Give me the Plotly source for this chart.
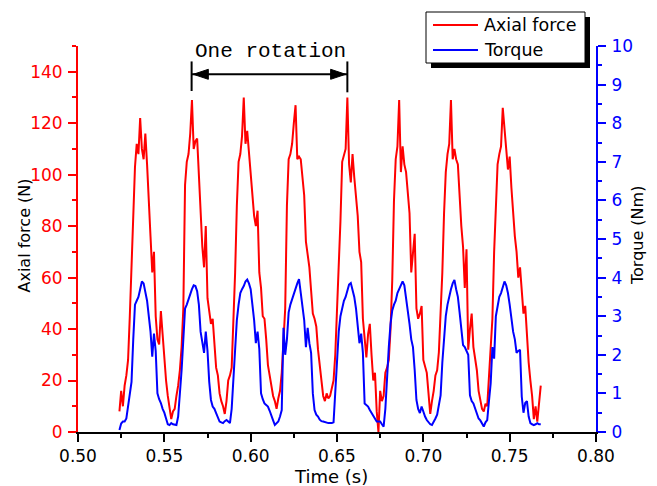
import plotly.graph_objects as go

# ---------------- data ----------------
t_start = 0.524   # s, first sample
t_step = 0.001    # s, sampling interval

axial_force = [
    8, 16, 10, 18, 22, 28,
    45, 62, 85, 103, 112, 108, 122, 110, 106, 116,
    104, 92, 76, 62, 70, 45, 36, 34, 47, 38,
    28, 20, 14, 10, 5, 8, 9, 14, 18, 24,
    33, 48, 96, 105, 108, 116, 129, 110, 113, 114,
    98, 86, 72, 64, 80, 52, 46, 42, 44, 32,
    25, 22, 15, 12, 10, 7, 12, 20, 22, 25,
    42, 62, 88, 105, 108, 115, 130, 112, 117, 108,
    100, 92, 84, 80, 86, 62, 56, 45, 44, 36,
    26, 22, 18, 14, 12, 9, 13, 16, 23, 35,
    48, 88, 106, 108, 112, 120, 127, 106, 107, 106,
    98, 92, 74, 68, 64, 55, 46, 44, 41, 32,
    25, 20, 14, 12, 15, 13, 14, 17, 20, 30,
    46, 62, 82, 105, 108, 110, 130, 104, 97, 108,
    99, 92, 84, 70, 66, 44, 36, 29, 38, 42,
    30, 20, 23, 8, 0, 16, 12, 14, 23, 25,
    28, 40, 59, 90, 106, 111, 129, 101, 111, 104,
    101, 92, 85, 62, 70, 77, 48, 44, 46, 49,
    28, 25, 23, 15, 7, 12, 16, 22, 24, 31,
    45, 62, 85, 101, 108, 112, 129, 106, 110, 106,
    104, 90, 80, 72, 56, 71, 32, 40, 46, 33,
    28, 24, 16, 12, 9, 8, 11, 10, 20, 30,
    44, 70, 88, 104, 108, 111, 126, 116, 110, 102,
    107, 95, 85, 76, 70, 60, 64, 55, 46, 49,
    35, 27, 20, 14, 5, 10, 4, 12, 18,
]

torque = [
    0.05, 0.22, 0.27, 0.27, 0.35, 0.7,
    1.0, 1.3, 2.4, 3.3, 3.4, 3.5, 3.7, 3.9, 3.85, 3.6,
    3.4, 3.0, 2.6, 1.95, 2.55, 2.1, 1.0, 0.85, 0.75, 0.6,
    0.5, 0.35, 0.2, 0.18, 0.23, 0.2, 0.18, 0.18, 0.4, 0.9,
    1.6, 2.4, 3.2, 3.3, 3.45, 3.6, 3.7, 3.8, 3.78, 3.65,
    3.3, 2.6, 2.3, 2.05, 2.6, 2.1, 1.3, 0.83, 0.66, 0.6,
    0.49, 0.38, 0.27, 0.25, 0.23, 0.28, 0.31, 0.27, 0.23, 0.6,
    1.4, 2.2, 2.9, 3.3, 3.6, 3.7, 3.78, 3.9, 3.95, 3.85,
    3.7, 3.3, 2.9, 2.3, 2.6, 2.15, 1.0, 0.85, 0.74, 0.7,
    0.66, 0.55, 0.4, 0.3, 0.18, 0.22, 0.27, 0.4, 0.57, 2.7,
    2.0, 2.4, 3.1, 3.3, 3.45, 3.6, 3.7, 3.85, 3.96, 3.6,
    3.3, 2.9, 2.2, 2.7, 2.3, 2.05, 1.0, 0.57, 0.45, 0.4,
    0.32, 0.28, 0.27, 0.25, 0.23, 0.23, 0.23, 0.23, 0.25, 1.1,
    2.1, 2.6, 3.0, 3.2, 3.4, 3.5, 3.7, 3.82, 3.86, 3.7,
    3.5, 3.2, 2.8, 2.3, 2.55, 2.05, 0.74, 0.7, 0.66, 0.57,
    0.5, 0.4, 0.33, 0.27, 0.27, 0.27, 0.2, 0.14, 0.6, 1.6,
    2.2, 2.8, 3.15, 3.3, 3.4, 3.6, 3.7, 3.8, 3.9, 3.8,
    3.5, 3.2, 2.8, 2.4, 2.2, 1.6, 0.83, 0.6, 0.49, 0.66,
    0.5, 0.4, 0.31, 0.25, 0.2, 0.18, 0.25, 0.35, 0.45, 0.7,
    0.95, 1.8, 2.5, 3.0, 3.3, 3.55, 3.7, 3.85, 3.94, 3.7,
    3.5, 3.1, 2.7, 2.25, 2.2, 2.1, 2.0, 0.95, 0.8, 0.74,
    0.6, 0.5, 0.35, 0.3, 0.2, 0.14, 0.25, 0.31, 0.8, 1.26,
    2.2, 1.9, 3.0, 3.3, 3.5, 3.6, 3.75, 3.9, 3.8, 3.6,
    3.3, 2.95, 2.6, 2.4, 2.05, 2.1, 2.13, 0.92, 0.5, 0.75,
    0.8, 0.4, 0.23, 0.2, 0.18, 0.2, 0.23, 0.2, 0.2,
]

time = [round(t_start + t_step * i, 3) for i in range(len(axial_force))]

series_names = ["Axial force", "Torque"]
axis_titles = {"x": "Time (s)", "y": "Axial force (N)", "y2": "Torque (Nm)"}

# "One rotation" marker: start and end of one rotation (s) and its height (N)
rotation_start = 0.5658
rotation_end = 0.6560
rotation_level = 139

# ---------------- figure ----------------
RED = "#FF0000"
BLUE = "#0000FF"
FONT = "DejaVu Sans, Arial, sans-serif"
OFF = 8                       # default page (body) margin around the plot div
W, H = 657 - OFF, 486 - OFF
L, T = 78 - OFF, 46 - OFF     # plot area starts at window pixel (78, 46)
PW, PH = 518, 386
R, B = W - L - PW, H - T - PH


def px(x):   # window pixel -> paper x
    return (x - OFF - L) / PW


def py(y):   # window pixel -> paper y
    return (T + PH + OFF - y) / PH


fig = go.Figure()
fig.add_trace(go.Scatter(x=time, y=axial_force, name=series_names[0], mode="lines",
                         line=dict(color=RED, width=2), yaxis="y", showlegend=False))
fig.add_trace(go.Scatter(x=time, y=torque, name=series_names[1], mode="lines",
                         line=dict(color=BLUE, width=2), yaxis="y2", showlegend=False))

tickstyle = dict(showgrid=False, zeroline=False, showline=True, linewidth=2,
                 ticks="outside", ticklen=8, tickwidth=2)

fig.update_layout(
    width=W, height=H,
    margin=dict(l=L, r=R, t=T, b=B, autoexpand=False),
    paper_bgcolor="white", plot_bgcolor="white",
    font=dict(family=FONT, size=17, color="black"),
    xaxis=dict(range=[0.5, 0.8], dtick=0.05, tick0=0.5, tickformat=".2f",
               linecolor="black", tickcolor="black", automargin=False,
               minor=dict(ticks="outside", ticklen=4, tickwidth=2, dtick=0.025,
                          tickcolor="black", showgrid=False),
               tickfont=dict(family=FONT, size=17, color="black"), **tickstyle),
    yaxis=dict(range=[0, 150], dtick=20, tick0=0, linecolor=RED, tickcolor=RED,
               automargin=False, ticklabelstandoff=2,
               minor=dict(ticks="outside", ticklen=4, tickwidth=2, dtick=10,
                          tickcolor=RED, showgrid=False),
               tickfont=dict(family=FONT, size=17, color=RED), **tickstyle),
    yaxis2=dict(range=[0, 10], dtick=1, tick0=0, overlaying="y", side="right",
                linecolor=BLUE, tickcolor=BLUE, automargin=False, ticklabelstandoff=2,
                minor=dict(ticks="outside", ticklen=4, tickwidth=2, dtick=0.5,
                           tickcolor=BLUE, showgrid=False),
                tickfont=dict(family=FONT, size=17, color=BLUE), **tickstyle),
)

# axis titles
fig.add_annotation(text=axis_titles["x"], xref="paper", yref="paper", x=px(331), y=py(476),
                   xanchor="center", yanchor="middle", showarrow=False,
                   font=dict(family=FONT, size=18, color="black"))
fig.add_annotation(text=axis_titles["y"], xref="paper", yref="paper", x=px(23.5), y=py(236),
                   xanchor="center", yanchor="middle", textangle=-90, showarrow=False,
                   font=dict(family=FONT, size=16, color="black"))
fig.add_annotation(text=axis_titles["y2"], xref="paper", yref="paper", x=px(637), y=py(236),
                   xanchor="center", yanchor="middle", textangle=-90, showarrow=False,
                   font=dict(family=FONT, size=16, color="black"))

# legend (box with drop shadow)
fig.add_shape(type="rect", xref="paper", yref="paper", x0=px(431), x1=px(590),
              y0=py(68), y1=py(17), fillcolor="black", line=dict(width=0), layer="above")
fig.add_shape(type="rect", xref="paper", yref="paper", x0=px(426), x1=px(585),
              y0=py(63), y1=py(12), fillcolor="white", line=dict(color="black", width=1),
              layer="above")
for name, color, ypix in [(series_names[0], RED, 25), (series_names[1], BLUE, 50)]:
    fig.add_shape(type="line", xref="paper", yref="paper", x0=px(433), x1=px(478),
                  y0=py(ypix), y1=py(ypix), line=dict(color=color, width=2), layer="above")
    fig.add_annotation(text=name, xref="paper", yref="paper", x=px(482), y=py(ypix),
                       xanchor="left", yanchor="middle", showarrow=False,
                       font=dict(family=FONT, size=17.5, color="black"))

# "One rotation" dimension arrow
dx_head = 15 * 0.3 / PW    # arrow head length in data units
dy_head = 5 * 150 / PH     # arrow head half height in data units
bar_lo, bar_hi = rotation_level - 6.5, rotation_level + 5
fig.add_shape(type="line", xref="x", yref="y", x0=rotation_start, x1=rotation_end,
              y0=rotation_level, y1=rotation_level, line=dict(color="black", width=2))
fig.add_shape(type="line", xref="x", yref="y", x0=rotation_start, x1=rotation_start,
              y0=bar_lo, y1=bar_hi, line=dict(color="black", width=2))
fig.add_shape(type="line", xref="x", yref="y", x0=rotation_end, x1=rotation_end,
              y0=bar_lo - 0.5, y1=bar_hi, line=dict(color="black", width=2))
ls = rotation_start + 0.001
fig.add_shape(type="path", xref="x", yref="y",
              path=f"M{ls},{rotation_level} L{ls + dx_head},{rotation_level + dy_head} "
                   f"L{ls + dx_head},{rotation_level - dy_head} Z",
              fillcolor="black", line=dict(color="black", width=1))
re_ = rotation_end - 0.001
fig.add_shape(type="path", xref="x", yref="y",
              path=f"M{re_},{rotation_level} L{re_ - dx_head},{rotation_level + dy_head} "
                   f"L{re_ - dx_head},{rotation_level - dy_head} Z",
              fillcolor="black", line=dict(color="black", width=1))
fig.add_annotation(x=(rotation_start + rotation_end) / 2 + 0.0005, y=147.8,
                   xref="x", yref="y", xanchor="center", yanchor="middle",
                   text="One rotation", showarrow=False,
                   font=dict(family="Courier New, Liberation Mono, monospace", size=21,
                             color="black"))

fig.write_html("out.html")
